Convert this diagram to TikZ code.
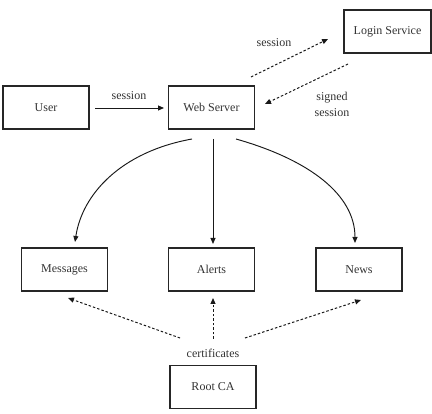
\documentclass[tikz,border=0pt]{standalone}
\usepackage{fontspec}
\setmainfont{Liberation Serif}
\usetikzlibrary{arrows.meta}
\begin{document}
\begin{tikzpicture}[x=1pt,y=-1pt,
  box/.style={draw=black!85, line width=1.3pt, minimum width=86pt, minimum height=43pt, inner sep=0pt, text=black!80, font=\fontsize{12}{14}\selectfont},
  lbl/.style={font=\fontsize{12}{14}\selectfont, inner sep=0pt, text=black!80, align=center},
  solidarr/.style={draw=black!90, line width=0.95pt, -{Triangle[length=6pt,width=5pt]}},
  dasharr/.style={draw=black!90, line width=1pt, dash pattern=on 2.5pt off 2pt, -{Triangle[length=6pt,width=5pt]}}]
\useasboundingbox (0,0) rectangle (432,414);
\node[box] (user) at (46,107.5) {User};
\node[box] (web) at (211.5,107.5) {Web Server};
\node[box, minimum width=87pt] (login) at (387.5,31.5) {Login Service};
\node[box] (msg) at (64.5,269.5) {Messages};
\node[box] (alerts) at (211.5,269.5) {Alerts};
\node[box] (news) at (359,269.5) {News};
\node[box] (root) at (213,387) {Root CA};

\coordinate (uw1) at (95,108);
\coordinate (uw2) at (164,108);
\draw[solidarr] (uw1) -- (uw2);
\node[lbl] (l1) at (129,96) {session};

\coordinate (s1) at (251,77);
\coordinate (s2) at (328,39);
\draw[dasharr] (s1) -- (s2);
\node[lbl] (l2) at (274,43) {session};

\coordinate (g1) at (348,64);
\coordinate (g2) at (265,104);
\draw[dasharr] (g1) -- (g2);
\node[lbl] (l3) at (332,104) {signed\\[2pt]session};

\coordinate (c1) at (192,139);
\coordinate (c2) at (75,242);
\draw[solidarr] (c1) .. controls (120,152) and (82,195) .. (c2);
\coordinate (m1) at (213,139);
\coordinate (m2) at (213,244);
\draw[solidarr] (m1) -- (m2);
\coordinate (r1) at (236,139);
\coordinate (r2) at (355,243);
\draw[solidarr] (r1) .. controls (310,160) and (355,195) .. (r2);

\coordinate (d0) at (180,338);
\coordinate (d1) at (68,298);
\draw[dasharr] (d0) -- (d1);
\coordinate (e0) at (213,339);
\coordinate (e1) at (213,298);
\draw[dasharr] (e0) -- (e1);
\coordinate (f0) at (245,338);
\coordinate (f1) at (361,300);
\draw[dasharr] (f0) -- (f1);
\node[lbl] (l4) at (213,353) {certificates};
\end{tikzpicture}
\end{document}
